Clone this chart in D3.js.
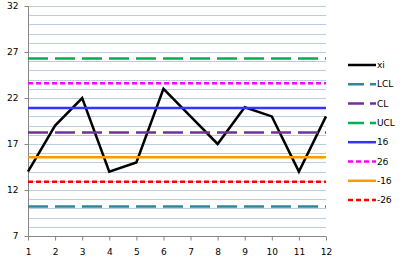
<!DOCTYPE html>
<html>
<head>
<meta charset="utf-8">
<script src="https://cdn.jsdelivr.net/npm/d3@7"></script>
<style>
  body { margin: 0; background: #fff; }
  text { font-family: "DejaVu Sans", Verdana, sans-serif; font-size: 9px; fill: #000; }
</style>
</head>
<body>
<div id="chart"></div>
<script>
// Daten
const samples = [1, 2, 3, 4, 5, 6, 7, 8, 9, 10, 11, 12];
const xiValues = [14, 19, 22, 14, 15, 23, 20, 17, 21, 20, 14, 20];
const limitNames = ['LCL', 'CL', 'UCL', '1б', '2б', '-1б', '-2б'];
const limitValues = [10.2, 18.25, 26.3, 20.9, 23.6, 15.55, 12.9];
const limitColors = ['#31859C', '#7030A0', '#00B050', '#3333FF', '#FF00FF', '#FF9900', '#FF0000'];
const limitDashes = ['20,7', '20,7', '20,7', null, '5,3', null, '5,3'];
const yTicks = [7, 12, 17, 22, 27, 32];

const width = 402, height = 263;
const margin = { top: 6, right: 76, bottom: 27, left: 28 };
const plotW = width - margin.left - margin.right;
const plotH = height - margin.top - margin.bottom;

const svg = d3.select('#chart').append('svg')
    .attr('width', width)
    .attr('height', height);

const g = svg.append('g')
    .attr('transform', `translate(${margin.left},${margin.top})`);

const x = d3.scaleLinear().domain([1, 12]).range([0, plotW]);
const y = d3.scaleLinear().domain([7, 32]).range([plotH, 0]);

// Gitterlinien jede Einheit
g.append('g')
    .selectAll('line')
    .data(d3.range(8, 33))
    .join('line')
    .attr('x1', 0)
    .attr('x2', plotW)
    .attr('y1', d => Math.round(y(d)) + 0.5)
    .attr('y2', d => Math.round(y(d)) + 0.5)
    .attr('stroke', '#B9CDE5')
    .attr('stroke-width', 1);

// Achsen
const yAxis = g.append('g')
    .attr('transform', 'translate(0.5,0)')
    .call(d3.axisLeft(y).tickValues(yTicks).tickSize(4).tickPadding(6).tickFormat(d3.format('d')));

const xAxis = g.append('g')
    .attr('transform', `translate(0,${Math.round(plotH) + 0.5})`)
    .call(d3.axisBottom(x).tickValues(samples).tickSize(4).tickPadding(8).tickFormat(d3.format('d')));

[yAxis, xAxis].forEach(ax => {
    ax.select('.domain').attr('stroke', '#868686');
    ax.selectAll('.tick line').attr('stroke', '#868686');
    ax.selectAll('text')
        .style('font-family', '"DejaVu Sans", Verdana, sans-serif')
        .style('font-size', '9px')
        .attr('fill', '#000');
});
yAxis.select('.domain').attr('d', `M0,${plotH}V0`);
xAxis.select('.domain').attr('d', `M0,0H${plotW}`);

// xi Linie zuerst
const line = d3.line()
    .x((d, i) => x(samples[i]))
    .y(d => y(d));

g.append('path')
    .datum(xiValues)
    .attr('d', line)
    .attr('fill', 'none')
    .attr('stroke', '#000')
    .attr('stroke-width', 2.5)
    .attr('stroke-linejoin', 'miter');

// Grenzlinien
limitValues.forEach((v, i) => {
    g.append('line')
        .attr('x1', 0)
        .attr('x2', plotW)
        .attr('y1', y(v))
        .attr('y2', y(v))
        .attr('stroke', limitColors[i])
        .attr('stroke-width', 2.5)
        .attr('stroke-dasharray', limitDashes[i]);
});

// Legende
const legendItems = [{ name: 'xi', color: '#000', dash: null }]
    .concat(limitNames.map((n, i) => ({ name: n, color: limitColors[i], dash: limitDashes[i] })));

const legend = svg.append('g')
    .attr('transform', 'translate(348,65)');

legendItems.forEach((item, i) => {
    const ly = i * 19.3;
    legend.append('line')
        .attr('x1', 0)
        .attr('x2', 28)
        .attr('y1', ly)
        .attr('y2', ly)
        .attr('stroke', item.color)
        .attr('stroke-width', 2.5)
        .attr('stroke-dasharray', item.dash === '20,7' ? '16,6' : item.dash);
    legend.append('text')
        .attr('x', 29)
        .attr('y', ly)
        .attr('dy', '0.35em')
        .text(item.name);
});
</script>
</body>
</html>
